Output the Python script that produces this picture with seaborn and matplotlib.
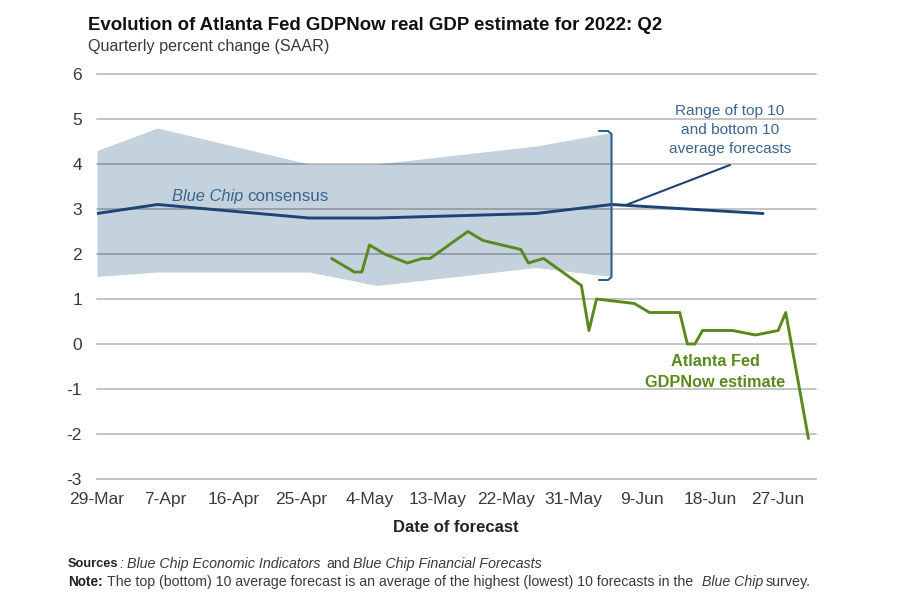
import matplotlib
matplotlib.use("Agg")
import matplotlib.pyplot as plt
import matplotlib.dates as mdates
import numpy as np
import pandas as pd
import seaborn as sns

chip_dates = ["2022-03-29", "2022-04-06", "2022-04-26", "2022-05-05", "2022-05-26", "2022-06-05", "2022-06-25"]
consensus = [2.9, 3.1, 2.8, 2.8, 2.9, 3.1, 2.9]
band_dates = chip_dates[:6]
band_top = [4.3, 4.8, 4.0, 4.0, 4.4, 4.7]
band_bottom = [1.5, 1.6, 1.6, 1.3, 1.7, 1.5]

gdp_dates = ["2022-04-29", "2022-05-02", "2022-05-03", "2022-05-04", "2022-05-06", "2022-05-09",
             "2022-05-11", "2022-05-12", "2022-05-17", "2022-05-19", "2022-05-24", "2022-05-25",
             "2022-05-27", "2022-06-01", "2022-06-02", "2022-06-03", "2022-06-08", "2022-06-10",
             "2022-06-14", "2022-06-15", "2022-06-16", "2022-06-17", "2022-06-21", "2022-06-24",
             "2022-06-27", "2022-06-28", "2022-07-01"]
gdp_now = [1.9, 1.6, 1.6, 2.2, 2.0, 1.8, 1.9, 1.9, 2.5, 2.3, 2.1, 1.8, 1.9, 1.3, 0.3, 1.0,
           0.9, 0.7, 0.7, 0.0, 0.0, 0.3, 0.3, 0.2, 0.3, 0.7, -2.1]

y_ticks = [6, 5, 4, 3, 2, 1, 0, -1, -2, -3]
x_ticks = ["2022-03-29", "2022-04-07", "2022-04-16", "2022-04-25", "2022-05-04", "2022-05-13",
           "2022-05-22", "2022-05-31", "2022-06-09", "2022-06-18", "2022-06-27"]

BLUE = "#1d4477"
GREEN = "#5a8a1e"
LABEL_BLUE = "#3b658f"
BAND = "#c3d2dd"
GRID = "#c4c4c4"
TEXT = "#3a3a3a"

sns.set_theme(style="white")
plt.rcParams["font.family"] = ["Liberation Sans", "DejaVu Sans"]
plt.rcParams["axes.unicode_minus"] = False

W, H = 912, 609
fig = plt.figure(figsize=(W / 100, H / 100), dpi=100)
ax = fig.add_axes([97 / W, 1 - 479 / H, (816 - 97) / W, (479 - 74) / H])

cd = pd.to_datetime(chip_dates)
bd = pd.to_datetime(band_dates)
gd = pd.to_datetime(gdp_dates)

ax.fill_between(bd, band_bottom, band_top, color=BAND, lw=0, zorder=1)
for v in y_ticks[:-1]:
    ax.axhline(v, color="black", alpha=0.25, lw=1.3, zorder=1.5, clip_on=False)

sns.lineplot(x=cd, y=consensus, ax=ax, color=BLUE, lw=2.1, zorder=3, errorbar=None)
sns.lineplot(x=gd, y=gdp_now, ax=ax, color=GREEN, lw=2.1, zorder=4, errorbar=None)

start = pd.Timestamp("2022-03-29")
ax.set_xlim(mdates.date2num(start), mdates.date2num(start) + 95.0)
ax.set_ylim(-3, 6)
ax.set_yticks(y_ticks)
ax.set_xticks(pd.to_datetime(x_ticks))
ax.xaxis.set_major_formatter(mdates.DateFormatter("%-d-%b"))
ax.tick_params(axis="y", length=0, pad=10.8, labelsize=12.5, labelcolor=TEXT)
ax.tick_params(axis="x", direction="in", length=4, width=1.2, color=GRID, pad=9.5, labelsize=12.5, labelcolor=TEXT)
ax.set_xlabel("")
ax.set_ylabel("")
for s in ["top", "left", "right"]:
    ax.spines[s].set_visible(False)
ax.spines["bottom"].set_color(GRID)
ax.spines["bottom"].set_linewidth(1.4)

def P(x, y):
    return (x / W, 1 - y / H)

fig.add_artist(plt.Line2D([599 / W, 608 / W, 611.5 / W, 611.5 / W, 608 / W, 599 / W],
                          [1 - 131 / H, 1 - 131 / H, 1 - 134 / H, 1 - 277 / H, 1 - 280 / H, 1 - 280 / H],
                          color="#2f5f8a", lw=1.5, zorder=5))
fig.add_artist(plt.Line2D([626 / W, 730 / W], [1 - 205 / H, 1 - 165 / H], color=BLUE, lw=1.5, zorder=5))

fig.text(*P(88, 25), "Evolution of Atlanta Fed GDPNow real GDP estimate for 2022: Q2",
         fontsize=13.4, fontweight="bold", color="#111111", va="center", ha="left")
fig.text(*P(88, 47), "Quarterly percent change (SAAR)", fontsize=11.6, color=TEXT, va="center", ha="left")
fig.text(*P(172, 197), "Blue Chip", fontsize=11.9, style="italic", color=LABEL_BLUE, va="center", ha="left")
fig.text(*P(247, 197), "consensus", fontsize=12.2, color=LABEL_BLUE, va="center", ha="left")
fig.text(*P(730, 130), "Range of top 10\nand bottom 10\naverage forecasts", fontsize=11.1, color=LABEL_BLUE,
         va="center", ha="center", linespacing=1.42)
fig.text(*P(715.5, 372), "Atlanta Fed\nGDPNow estimate", fontsize=11.7, fontweight="bold", color=GREEN,
         va="center", ha="center", linespacing=1.42)
fig.text(*P(456, 527), "Date of forecast", fontsize=12, fontweight="bold", color="#222222", va="center", ha="center")

fig.text(*P(68, 564), "Sources", fontsize=9.2, fontweight="bold", color="#222222", va="center", ha="left")
fig.text(*P(119.5, 564), ":", fontsize=10.2, style="italic", color=TEXT, va="center", ha="left")
fig.text(*P(127, 564), "Blue Chip Economic Indicators", fontsize=10.3, style="italic", color=TEXT, va="center", ha="left")
fig.text(*P(326, 564), "and", fontsize=10.2, color=TEXT, va="center", ha="left")
fig.text(*P(353, 564), "Blue Chip Financial Forecasts", fontsize=10.3, style="italic", color=TEXT, va="center", ha="left")
fig.text(*P(68, 582), "Note:", fontsize=9.8, fontweight="bold", color="#222222", va="center", ha="left")
fig.text(*P(107, 582), "The top (bottom) 10 average forecast is an average of the highest (lowest) 10 forecasts in the",
         fontsize=10.2, color=TEXT, va="center", ha="left")
fig.text(*P(702, 582), "Blue Chip", fontsize=10.2, style="italic", color=TEXT, va="center", ha="left")
fig.text(*P(766, 582), "survey.", fontsize=10.3, color=TEXT, va="center", ha="left")

fig.savefig("out.png", dpi=100)
